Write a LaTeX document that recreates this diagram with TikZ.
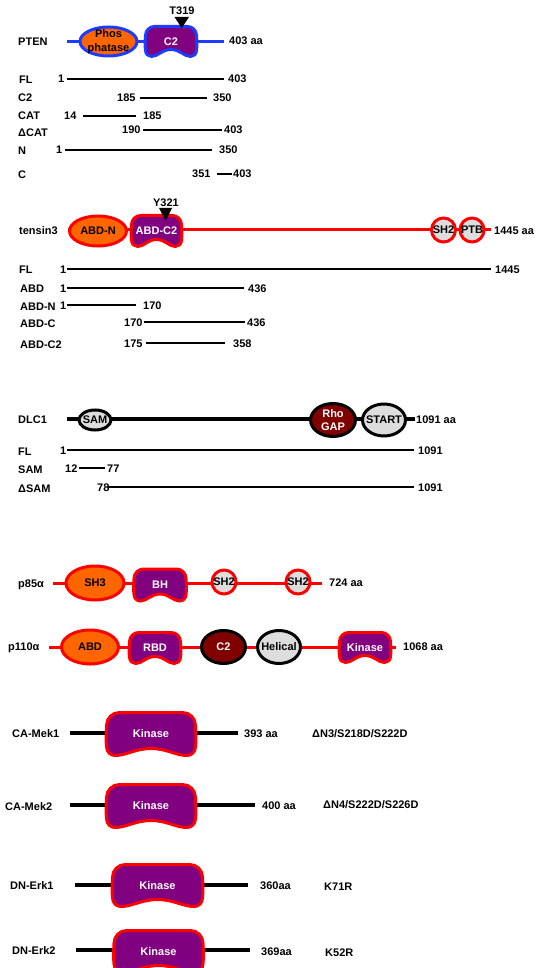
\documentclass[tikz,border=0pt]{standalone}
\usepackage{fontspec}
\setmainfont{Liberation Sans}
\usetikzlibrary{shapes.geometric}

\definecolor{dorange}{HTML}{FF6600}
\definecolor{dpurple}{HTML}{800080}
\definecolor{dblue}{HTML}{1E3CFF}
\definecolor{dred}{HTML}{FF0000}
\definecolor{dmaroon}{HTML}{800000}
\definecolor{dgray}{HTML}{DDDDDD}

\tikzset{
  x=1pt, y=-1pt,
  txt/.style={font=\fontsize{11}{13}\selectfont\bfseries, inner sep=0pt},
  lbl/.style={txt, anchor=base west},
  dom/.style={txt, align=center},
  frag/.style={line width=1.5pt, black},
  bbblue/.style={line width=3pt, dblue},
  bbred/.style={line width=3pt, dred},
  bbblack/.style={line width=4pt, black},
  bbthick/.style={line width=4.5pt, black},
  redorange/.style={draw=dred, fill=dorange, line width=3pt},
  redpurple/.style={draw=dred, fill=dpurple, line width=3pt},
  redgray/.style={draw=dred, fill=dgray, line width=3pt},
  blackgray/.style={draw=black, fill=dgray, line width=3pt},
  blackmaroon/.style={draw=black, fill=dmaroon, line width=3pt},
  site/.style={fill=black},
}

% text label, vertically centred on the cap height at (x,y)
\newcommand\lab[4]{\node[lbl] (#1) at ({#2},{#3+4}) {#4};}

% fragment row: id, y, line start, line end, left number x, left number, right number x, right number
\newcommand\fragrow[8]{%
  \coordinate (#1-s) at (#3,#2);
  \coordinate (#1-e) at (#4,#2);
  \draw[frag] (#1-s) -- (#1-e);
  \node[lbl] (#1-a) at ({#5},{#2+4}) {#6};
  \node[lbl] (#1-b) at ({#7},{#2+4}) {#8};
}

% elliptic domain: style, cx, cy, width, height, name, text colour, text
\newcommand\edomain[8]{%
  \node[ellipse, #1, minimum width=#4, minimum height=#5, inner sep=0pt] (#6) at (#2,#3) {};
  \node[dom, text=#7] (#6-t) at (#6.center) {#8};
}

% catalytic-type domain with rounded top and hollowed bottom:
% style, cx, cy, half width, half height, name, text
\newcommand\kdomain[7]{%
  \draw[#1] ({#2-#4},{#3-0.4*#5})
    .. controls ({#2-#4},{#3-0.73*#5}) and ({#2-#4+0.27*#5},{#3-#5}) .. ({#2-#4+0.6*#5},{#3-#5})
    -- ({#2+#4-0.6*#5},{#3-#5})
    .. controls ({#2+#4-0.27*#5},{#3-#5}) and ({#2+#4},{#3-0.73*#5}) .. ({#2+#4},{#3-0.4*#5})
    .. controls ({#2+#4+0.6},{#3+0.1*#5}) and ({#2+#4+0.4},{#3+0.4*#5}) .. ({#2+#4},{#3+0.6*#5})
    .. controls ({#2+#4-0.2},{#3+0.85*#5}) and ({#2+#4-0.2*#5},{#3+#5}) .. ({#2+#4-0.4*#5},{#3+#5})
    .. controls ({#2+#4-0.4*#5-0.25*#4},{#3+#5}) and ({#2+0.35*#4},{#3+#5-7}) .. ({#2},{#3+#5-7})
    .. controls ({#2-0.35*#4},{#3+#5-7}) and ({#2-#4+0.4*#5+0.25*#4},{#3+#5}) .. ({#2-#4+0.4*#5},{#3+#5})
    .. controls ({#2-#4+0.2*#5},{#3+#5}) and ({#2-#4+0.2},{#3+0.85*#5}) .. ({#2-#4},{#3+0.6*#5})
    .. controls ({#2-#4-0.4},{#3+0.4*#5}) and ({#2-#4-0.6},{#3+0.1*#5}) .. ({#2-#4},{#3-0.4*#5})
    -- cycle;
  \node[dom, text=white] (#6) at (#2,#3) {#7};
}

\begin{document}
\begin{tikzpicture}
\useasboundingbox (0,0) rectangle (537,968);

% ---------------- PTEN ----------------
\coordinate (pten-s) at (67,41.5);
\coordinate (pten-e) at (224,41.5);
\draw[bbblue] (pten-s) -- (pten-e);
\edomain{draw=dblue, fill=dorange, line width=3pt}{108.5}{41.5}{57}{29}{pten-phos}{black}{Phos\\[1.5pt]phatase}
\kdomain{draw=dblue, fill=dpurple, line width=3pt}{171}{41.5}{25.5}{15}{pten-c2}{C2}
\node[txt, anchor=base] (t319) at (182,15) {T319};
\fill[site] (174.5,17) -- (189,17) -- (181.7,28) -- cycle;
\lab{pten}{18}{42}{PTEN}
\lab{pten-len}{229}{41}{403 aa}

\lab{ptfl-l}{19}{80}{FL}
\fragrow{ptfl}{79}{67}{224}{58}{1}{228}{403}
\lab{ptc2-l}{18}{98}{C2}
\fragrow{ptc2}{98}{140}{207}{117}{185}{213}{350}
\lab{ptcat-l}{18}{116}{CAT}
\fragrow{ptcat}{116}{83}{136}{64}{14}{143}{185}
\lab{ptdcat-l}{18}{133}{ΔCAT}
\fragrow{ptdcat}{130}{143}{222}{122}{190}{224}{403}
\lab{ptn-l}{18}{151}{N}
\fragrow{ptn}{150}{65}{212}{56}{1}{219}{350}
\lab{ptc-l}{18}{175}{C}
\fragrow{ptc}{174}{217}{232}{192}{351}{233}{403}

% ---------------- tensin3 ----------------
\coordinate (tns-s) at (68,230);
\coordinate (tns-e) at (491,230);
\draw[bbred] (tns-s) -- (tns-e);
\edomain{redorange}{98}{231}{57}{30}{tns-abdn}{black}{ABD-N}
\kdomain{redpurple}{156.5}{231}{25}{15.5}{tns-abdc2}{ABD-C2}
\edomain{redgray}{443.5}{230}{24}{24}{tns-sh2}{black}{SH2}
\edomain{redgray}{472}{230}{24}{24}{tns-ptb}{black}{PTB}
\node[txt, anchor=base] (y321) at (166,207) {Y321};
\fill[site] (159,208) -- (172,208) -- (165.5,221) -- cycle;
\lab{tns}{19}{230}{tensin3}
\lab{tns-len}{494}{231}{1445 aa}

\lab{tfl-l}{19}{269}{FL}
\fragrow{tfl}{269}{67}{491}{60}{1}{495}{1445}
\lab{tabd-l}{20}{288}{ABD}
\fragrow{tabd}{288}{67}{244}{60}{1}{248}{436}
\lab{tabdn-l}{20}{306}{ABD-N}
\fragrow{tabdn}{305}{67}{136}{60}{1}{143}{170}
\lab{tabdc-l}{20}{323}{ABD-C}
\fragrow{tabdc}{322}{144}{245}{124}{170}{247}{436}
\lab{tabdc2-l}{20}{344}{ABD-C2}
\fragrow{tabdc2}{343}{146}{225}{124}{175}{233}{358}

% ---------------- DLC1 ----------------
\coordinate (dlc-s) at (67,419);
\coordinate (dlc-e) at (415,419);
\draw[bbblack] (dlc-s) -- (dlc-e);
\edomain{blackgray}{95}{420}{32}{20}{dlc-sam}{black}{SAM}
\edomain{blackmaroon}{333}{420}{45}{33}{dlc-gap}{white}{Rho\\[0pt]GAP}
\edomain{blackgray}{384}{420}{43}{32}{dlc-start}{black}{START}
\lab{dlc}{18}{419}{DLC1}
\lab{dlc-len}{416}{419}{1091 aa}

\lab{dfl-l}{18}{451}{FL}
\fragrow{dfl}{450}{67}{414}{60}{1}{418}{1091}
\lab{dsam-l}{18}{469}{SAM}
\fragrow{dsam}{468}{79}{105}{65}{12}{107}{77}
\lab{ddsam-l}{18}{488}{ΔSAM}
\fragrow{ddsam}{487}{108}{414}{97}{78}{418}{1091}

% ---------------- p85 alpha ----------------
\coordinate (p85-s) at (53,583);
\coordinate (p85-e) at (322,583);
\draw[bbred] (p85-s) -- (p85-e);
\edomain{redorange}{95}{583}{58}{34}{p85-sh3}{black}{SH3}
\kdomain{redpurple}{160}{585}{26}{16}{p85-bh}{BH}
\edomain{redgray}{224}{582}{24}{24}{p85-nsh2}{black}{SH2}
\edomain{redgray}{298}{582}{24}{24}{p85-csh2}{black}{SH2}
\lab{p85}{18}{583}{p85α}
\lab{p85-len}{329}{582}{724 aa}

% ---------------- p110 alpha ----------------
\coordinate (p110-s) at (49,647);
\coordinate (p110-e) at (396,647);
\draw[bbred] (p110-s) -- (p110-e);
\edomain{redorange}{90}{647}{57}{34}{p110-abd}{black}{ABD}
\kdomain{redpurple}{155}{648}{25.5}{15.5}{p110-rbd}{RBD}
\edomain{blackmaroon}{223.5}{647}{44}{33}{p110-c2}{white}{C2}
\edomain{blackgray}{279}{647}{43}{33}{p110-hel}{black}{Helical}
\kdomain{redpurple}{365}{647.5}{25.5}{15}{p110-kin}{Kinase}
\lab{p110}{8}{646}{p110α}
\lab{p110-len}{403}{646}{1068 aa}

% ---------------- CA-Mek1 / CA-Mek2 ----------------
\coordinate (mek1-s) at (70,733);
\coordinate (mek1-e) at (238,733);
\draw[bbthick] (mek1-s) -- (mek1-e);
\kdomain{redpurple}{151}{734}{44.5}{21.5}{mek1-kin}{Kinase}
\lab{mek1}{12}{733}{CA-Mek1}
\lab{mek1-len}{244}{733}{393 aa}
\lab{mek1-mut}{312}{733}{ΔN3/S218D/S222D}

\coordinate (mek2-s) at (70,805);
\coordinate (mek2-e) at (255,805);
\draw[bbthick] (mek2-s) -- (mek2-e);
\kdomain{redpurple}{151}{806}{44.5}{21.5}{mek2-kin}{Kinase}
\lab{mek2}{5}{806}{CA-Mek2}
\lab{mek2-len}{262}{805}{400 aa}
\lab{mek2-mut}{323}{804}{ΔN4/S222D/S226D}

% ---------------- DN-Erk1 / DN-Erk2 ----------------
\coordinate (erk1-s) at (75,885);
\coordinate (erk1-e) at (248,885);
\draw[bbthick] (erk1-s) -- (erk1-e);
\kdomain{redpurple}{157.5}{885.5}{45}{21}{erk1-kin}{Kinase}
\lab{erk1}{10}{885}{DN-Erk1}
\lab{erk1-len}{260}{885}{360aa}
\lab{erk1-mut}{324}{886}{K71R}

\coordinate (erk2-s) at (76,950);
\coordinate (erk2-e) at (250,950);
\draw[bbthick] (erk2-s) -- (erk2-e);
\kdomain{redpurple}{158.5}{951.5}{44.5}{21}{erk2-kin}{Kinase}
\lab{erk2}{12}{950}{DN-Erk2}
\lab{erk2-len}{261}{951}{369aa}
\lab{erk2-mut}{325}{952}{K52R}
\end{tikzpicture}
\end{document}
